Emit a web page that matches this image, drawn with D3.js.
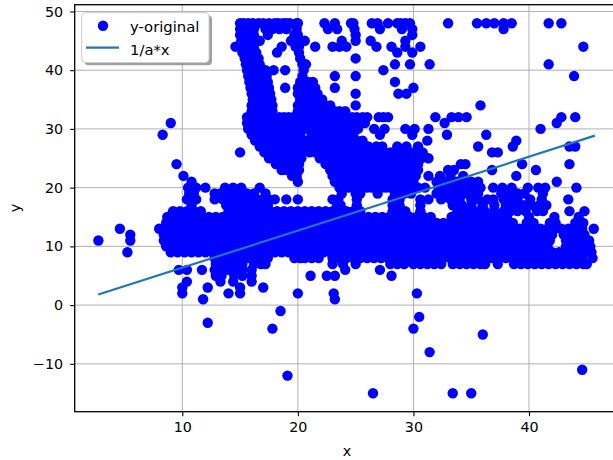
<!DOCTYPE html>
<html><head><meta charset="utf-8">
<script src="https://cdn.jsdelivr.net/npm/d3@7/dist/d3.min.js"></script>
<style>html,body{margin:0;padding:0;background:#fff;overflow:hidden}svg{display:block}text{font-family:"DejaVu Sans",sans-serif;fill:#000}</style>
</head><body><svg id="c" width="613" height="460"></svg>
<script>
const xTicks=[10,20,30,40];
const yTicks=[-10,0,10,20,30,40,50];
const xDomain=[0.69,47.7];
const yDomain=[-18.15,51.15];
const seriesNames=["y-original","1/a*x"];
const lineX=[2.73,45.7];
const lineY=[1.8,28.85];
const rowY=[48,47,46,45,44,43,42,41,40,39,38,37,36,35,34,33,32,31,30,29,28,27,26,25,24,23,22,21,20,19,18,17,16,15,14,13,12,11,10,9,8,7,6,5,4,3,2,1,-1,-2,-3,-4,-5,-8,-11,-12,-15];
const rowX=[
/*48*/[15,15.3,15.7,16.1,16.6,17,17.5,18,18.3,18.7,19,19.3,19.9,20,22.3,23.2,24.6,24.8,26.4,26.9,27.8,28.6,28.9,29.3,29.7,33,35.5,36.3,37,37.8,38.5,41.7,42.8],
/*47*/[15,15.4,15.8,16.2,17.2,17.8,18.4,19,19.9,22.6,23.4,24.9,27.1,29,29.9,37.8],
/*46*/[15,15.4,15.8,16.2,17.4,19.7,20,25,29.9],
/*45*/[15.1,15.5,15.9,16.3,16.7,19.4,19.9,20.1,20.6,23.8,25,26.3,29.3],
/*44*/[14.6,15,15.4,15.8,16.2,18.6,19.8,20.1,21.5,23,23.6,24.2,26.8,28.1,29.3,30.6,44.7],
/*43*/[15.2,15.6,16,16.4,18.2,20.1,28.6,29.9],
/*42*/[15.4,15.8,16.2,16.6,20.2,25],
/*41*/[15.5,15.9,16.3,16.7,20.4,20.7,28.4,29.7,31.4,41.7],
/*40*/[15.6,16,16.4,16.8,17.2,17.9,18.9,20.5,27.4],
/*39*/[15.7,16.1,16.5,16.9,17.3,20.4,23.2,25,43.9],
/*38*/[15.8,16.2,16.6,17,17.4,20.2,20.9,21.3,28.4],
/*37*/[15.9,16.3,16.7,17.1,17.5,18.9,20,20.5,21,21.5,23.2,30],
/*36*/[16,16.4,16.8,17.2,17.6,20,20.4,20.8,21.2,21.7,25,28.7,29.4],
/*35*/[16.1,16.5,16.9,17.3,17.7,20.2,20.9,21.3,21.7,22.1],
/*34*/[16,16.4,16.8,17.2,17.6,17.8,20,20.6,21.2,21.6,22,22.4,22.8,25,35.8],
/*33*/[16,16.4,16.8,17.2,17.6,17.8,20,20.4,20.8,21.2,21.6,22,22.4,22.8,23.2,23.6,24.1],
/*32*/[15.6,16,16.4,16.8,17.2,17.6,18,18.4,18.8,19.2,19.6,20,20.4,20.8,21.2,21.6,22,22.4,22.8,23.2,23.6,24,24.7,25.1,25.6,26,27,27.4,27.8,31.9,33.3,33.9,34.6,42.8,44],
/*31*/[9,15.6,16,16.4,16.8,17.2,17.6,18,18.4,18.8,19.2,19.6,20.2,20.6,20.9,21.3,21.7,22.1,22.5,22.9,23.3,23.7,24.1,24.5,25,25.5,25.8,32.7,42.4],
/*30*/[15.7,16.1,16.5,16.9,17.3,17.7,18.1,18.5,18.9,19.3,19.7,20.2,20.6,21.2,21.6,22,22.4,22.8,23.2,23.6,24,24.4,24.8,25.2,26.6,27.5,29.3,30.1,31.3,41],
/*29*/[8.3,16,16.4,16.8,17.2,17.6,18,18.4,18.8,19.2,19.6,20.2,21.2,21.6,22,22.4,22.8,23.2,23.6,24,24.4,24.8,27.1,29.9,32.9,36.3],
/*28*/[16.3,16.7,17.1,17.5,17.9,18.3,18.7,19.1,19.5,19.9,20.3,20.7,21.1,21.5,21.9,22.3,22.7,23.1,23.5,23.9,24.3,24.7,25.1,25.6,31.2,38.9],
/*27*/[16.7,17.1,17.5,17.9,18.3,18.7,19.1,19.5,19.9,20.3,20.8,21.3,21.7,22.1,22.5,22.9,23.3,23.7,24.1,24.5,24.9,25.3,25.7,26.1,26.8,27.3,28.6,29.4,30.4,35.6,38.6,43.5,44],
/*26*/[15,17.1,17.5,17.9,18.3,18.7,19.1,19.5,19.9,20.3,21,21.5,21.9,22.3,22.7,23.1,23.5,23.9,24.3,24.7,25.1,25.5,25.9,26.3,26.7,27.1,27.5,28,28.4,28.8,29.2,29.6,30,30.4,30.8,36.8,37.3],
/*25*/[17.5,17.9,18.3,18.7,19.1,19.5,19.9,20.3,21.9,22.3,22.7,23.1,23.5,23.9,24.3,24.7,25.1,25.5,25.9,26.3,26.7,27.1,27.5,27.9,28.3,28.7,29.1,29.5,29.9,30.3,30.7,31.3],
/*24*/[9.5,18.1,18.5,18.9,19.3,19.7,20.1,22.4,22.8,23.2,23.6,24,24.4,24.8,25.2,25.6,26,26.4,26.8,27.2,27.6,28,28.4,28.8,29.2,29.6,30,30.4,34.1,34.5,39.4,43.5],
/*23*/[18.6,19,19.4,19.8,20.1,22.8,23.2,23.6,24,24.4,24.8,25.2,25.6,26,26.4,26.8,27.2,27.6,28,28.4,28.8,29.2,29.6,30,30.4,33,33.5,36.8,40.6],
/*22*/[10.1,19.5,19.9,23,23.4,23.8,24.2,24.6,25,25.4,25.8,26.2,26.6,27,27.4,27.8,28.2,28.6,29,29.4,29.8,30.2,31.3,32.3,33.2,34.3,38.9],
/*21*/[10.8,20,23.2,23.6,24,24.4,24.8,25.2,25.6,26,26.4,26.8,27.2,27.6,28,28.4,28.8,29.2,29.6,30,32,32.6,33.2,33.8,34.4,35,35.6,42.4],
/*20*/[10.5,11.2,12,13.7,14.4,15.1,16.7,23.6,24,24.4,24.8,25.2,25.6,26,26.4,26.8,27.2,27.6,28,28.4,28.8,29.2,29.6,30,30.4,31,32.2,32.8,33.4,34,34.6,35.2,35.8,36.9,37.7,38.5,39.9,40.8,41.4,44.1],
/*19*/[10.6,11,12.8,13.3,13.8,14.3,15,15.6,16.2,17.2,23.8,25,25.4,26.9,28.4,28.7,29.2,29.8,32,32.6,33.2,33.8,34.4,35,35.6,37.6,38.4,39,39.6,41.2],
/*18*/[10.4,10.8,11.2,12.8,13.5,14,14.5,15,15.5,16,16.5,17,17.5,18,19,20,23,23.5,25.1,28.2,28.8,30.6,31.3,32.4,33.2,34,35,35.6,36.4,36.9,37.8,38.4,39,40.1,41.1,43.4],
/*17*/[10.8,13.8,14.4,15,15.6,16.2,16.8,17.4,23.4,23.7,25.1,28.2,28.8,30.6,33.4,34.2,35,36,37,38,38.8,39.5,40.2,40.9,41.5],
/*16*/[9.2,9.8,10.4,11,11.6,14,14.6,15.2,15.8,16.4,17,17.6,18.2,18.8,19.4,20,20.6,21.2,21.8,22.4,23,23.6,24.2,24.8,25.4,28.2,28.8,29.3,30.6,33.8,34.4,35,35.6,36.2,37,37.8,38.4,39,39.7,40.7,41.2,43.5,44.8],
/*15*/[8.7,9.3,9.9,10.5,11.1,11.7,12.3,12.9,13.5,14.1,14.7,15.3,15.9,16.5,17.1,17.7,18.3,18.9,19.5,20.1,20.7,21.3,21.9,22.5,23.1,23.7,24.3,24.9,25.5,26.1,26.7,27.3,27.9,28.5,29.1,29.7,30.3,30.9,31.5,33.3,33.9,34.5,35.1,35.7,36.3,36.9,37.5,38.1,40,42.2,44.3],
/*14*/[8.6,9.2,9.8,10.4,11,11.6,12.2,12.8,13.4,14,14.6,15.2,15.8,16.4,17,17.6,18.2,18.8,19.4,20,20.6,21.2,21.8,22.4,23,23.6,24.2,24.8,25.4,26,26.6,27.2,27.8,28.4,29,29.6,30.2,30.8,31.4,32,32.6,33.2,33.8,34.4,35,35.6,36.2,36.8,37.4,38,38.6,39.8,40.4,41.8,42.3,44,44.7],
/*13*/[4.6,8,8.6,9.2,9.8,10.4,11,11.6,12.2,12.8,13.4,14,14.6,15.2,15.8,16.4,17,17.6,18.2,18.8,19.4,20,20.6,21.2,21.8,22.4,23,23.6,24.2,24.8,25.4,26,26.6,27.2,27.8,28.4,29,29.6,30.2,30.8,31.4,32,32.6,33.2,33.8,34.4,35,35.6,36.2,36.8,37.4,38,38.6,39.2,39.8,40.4,41,41.6,42.2,42.8,43.4,44,44.6,45.6],
/*12*/[5.5,8.4,9,9.6,10.2,10.8,11.4,12,12.6,13.2,13.8,14.4,15,15.6,16.2,16.8,17.4,18,18.6,19.2,19.8,20.4,21,21.6,22.2,22.8,23.4,24,24.6,25.2,25.8,26.4,27,27.6,28.2,28.8,29.4,30,30.6,31.2,31.8,32.4,33,33.6,34.2,34.8,35.4,36,36.6,37.2,37.8,38.4,39,39.6,40.2,40.8,41.4,42,43,43.6,44.2,44.8],
/*11*/[2.74,5.5,8.4,9,9.6,10.2,10.8,11.4,12,12.6,13.2,13.8,14.4,15,15.6,16.2,16.8,17.4,18,18.6,19.2,19.8,20.4,21,21.6,22.2,22.8,23.4,24,24.6,25.2,25.8,26.4,27,27.6,28.2,28.8,29.4,30,30.6,31.2,31.8,32.4,33,33.6,34.2,34.8,35.4,36,36.6,37.2,37.8,38.4,39,39.6,40.2,40.8,41.4,41.8,43.2,43.8,44.4,45,45.2],
/*10*/[8.6,9.2,9.8,10.4,11,11.6,12.2,12.8,13.4,14,14.6,15.2,15.8,16.4,17,17.6,18.2,18.8,19.4,20,20.6,21.2,21.8,22.4,23,23.6,24.2,24.8,25.4,26,26.6,27.2,27.8,28.4,29,29.6,30.2,30.8,31.4,32,32.6,33.2,33.8,34.4,35,35.6,36.2,36.8,37.4,38,38.6,39.2,39.8,40.4,41,41.6,43.2,43.8,44.4,45,45.3],
/*9*/[5.25,9,9.6,10.2,10.8,11.4,12,12.6,13.2,13.8,14.4,15,15.6,16.2,16.8,17.4,18,18.6,19.2,19.8,20.4,21,21.6,22.2,22.8,23.4,24,24.6,25.2,25.8,26.4,27,27.6,28.2,28.8,29.4,30,30.6,31.2,31.8,32.4,33,33.6,34.2,34.8,35.4,36,36.6,37.2,37.8,38.4,39,39.6,40.2,40.8,41.4,42,42.6,43.2,43.8,44.4,45,45.4],
/*8*/[12.8,13.2,13.8,14.4,15,15.6,16.2,16.8,17.4,19.7,20.2,20.6,21.2,21.8,23,23.6,24.2,24.8,25.4,26,26.6,27.2,27.8,28.4,29,29.6,30.2,30.8,31.4,32,32.6,33.2,33.8,34.4,35,35.6,36.2,36.8,37.4,38,38.6,39.2,39.8,40.4,41,41.6,42.2,42.8,43.4,44,44.6,45.5],
/*7*/[12.9,13.4,14,14.6,15.2,16.2,16.8,17.2,23,23.9,25,28,28.6,29.2,30,30.6,31.2,31.8,32.4,33.4,34,34.6,35.2,35.8,36.2,37.3,38.7,39.3,39.9,40.5,41.1,41.7,42.3,42.9,43.5,44.1,44.7,45],
/*6*/[9.7,10.4,11.7,12.8,13.4,14,14.6,15.2,16,27.1,24.1],
/*5*/[12.9,13.4,14.5,15.2,16,21.1,22.5,23.2,28.1],
/*4*/[10.4,13.3,14.4,16],
/*3*/[10,12.2,15,17],
/*2*/[10,14,15,20,23.1,30.3],
/*1*/[11.8,23.2],
/*-1*/[18.5],
/*-2*/[30.5],
/*-3*/[12.2],
/*-4*/[17.8,30],
/*-5*/[36],
/*-8*/[31.4],
/*-11*/[44.6],
/*-12*/[19.1],
/*-15*/[26.5,33.4,35]
];

const svg=d3.select("#c");
const L=74.7,R=618,T=4.7,B=411.7;
const x=d3.scaleLinear().domain(xDomain).range([L,R]);
const y=d3.scaleLinear().domain(yDomain).range([B,T]);
const fmt=d=>String(d).replace("-","\u2212");
const FS=14.3;

svg.append("g").selectAll("line").data(xTicks).join("line")
 .attr("x1",d=>x(d)).attr("x2",d=>x(d)).attr("y1",T).attr("y2",B).attr("stroke","#b0b0b0").attr("stroke-width",1);
svg.append("g").selectAll("line").data(yTicks).join("line")
 .attr("x1",L).attr("x2",R).attr("y1",d=>y(d)).attr("y2",d=>y(d)).attr("stroke","#b0b0b0").attr("stroke-width",1);

const pts=rowX.flatMap((xs,i)=>xs.map(v=>[v,rowY[i]]));
svg.append("g").selectAll("circle").data(pts).join("circle")
 .attr("cx",d=>x(d[0])).attr("cy",d=>y(d[1])).attr("r",5.2).attr("fill","#0000ff");

svg.append("path").datum(lineX.map((v,i)=>[v,lineY[i]]))
 .attr("d",d3.line().x(d=>x(d[0])).y(d=>y(d[1]))).attr("fill","none").attr("stroke","#1f77b4").attr("stroke-width",2.2);

const ax=svg.append("g").attr("transform",`translate(0,${B})`).call(d3.axisBottom(x).tickValues(xTicks).tickFormat(fmt).tickSizeOuter(0).tickSize(4.5).tickPadding(6));
const ay=svg.append("g").attr("transform",`translate(${L},0)`).call(d3.axisLeft(y).tickValues(yTicks).tickFormat(fmt).tickSizeOuter(0).tickSize(4.5).tickPadding(7));
[ax,ay].forEach(g=>{g.select(".domain").remove();g.selectAll("text").attr("font-size",FS).attr("fill","#000").style("font-family",'"DejaVu Sans",sans-serif');g.selectAll("line").attr("stroke","#000").attr("stroke-width",1.1);});
svg.append("rect").attr("x",L).attr("y",T).attr("width",R-L).attr("height",B-T).attr("fill","none").attr("stroke","#000").attr("stroke-width",1.3);

svg.append("text").attr("x",347).attr("y",456).attr("text-anchor","middle").attr("font-size",FS).text("x");
svg.append("text").attr("transform","translate(20,208) rotate(-90)").attr("text-anchor","middle").attr("font-size",FS).text("y");

const lg=svg.append("g");
lg.append("rect").attr("x",84.5).attr("y",15.5).attr("width",127.5).attr("height",49.8).attr("rx",4).attr("fill","#888").attr("opacity",.8);
lg.append("rect").attr("x",81.7).attr("y",12.7).attr("width",127.3).attr("height",49.8).attr("rx",4).attr("fill","#fff").attr("stroke","#ccc").attr("stroke-width",1);
lg.append("circle").attr("cx",103).attr("cy",25.7).attr("r",5.2).attr("fill","#0000ff");
lg.append("line").attr("x1",86).attr("x2",119).attr("y1",47.7).attr("y2",47.7).attr("stroke","#1f77b4").attr("stroke-width",2.2);
lg.selectAll("text").data(seriesNames).join("text").attr("x",130).attr("y",(d,i)=>31.5+i*23).attr("font-size",14.8).text(d=>d);
</script></body></html>
